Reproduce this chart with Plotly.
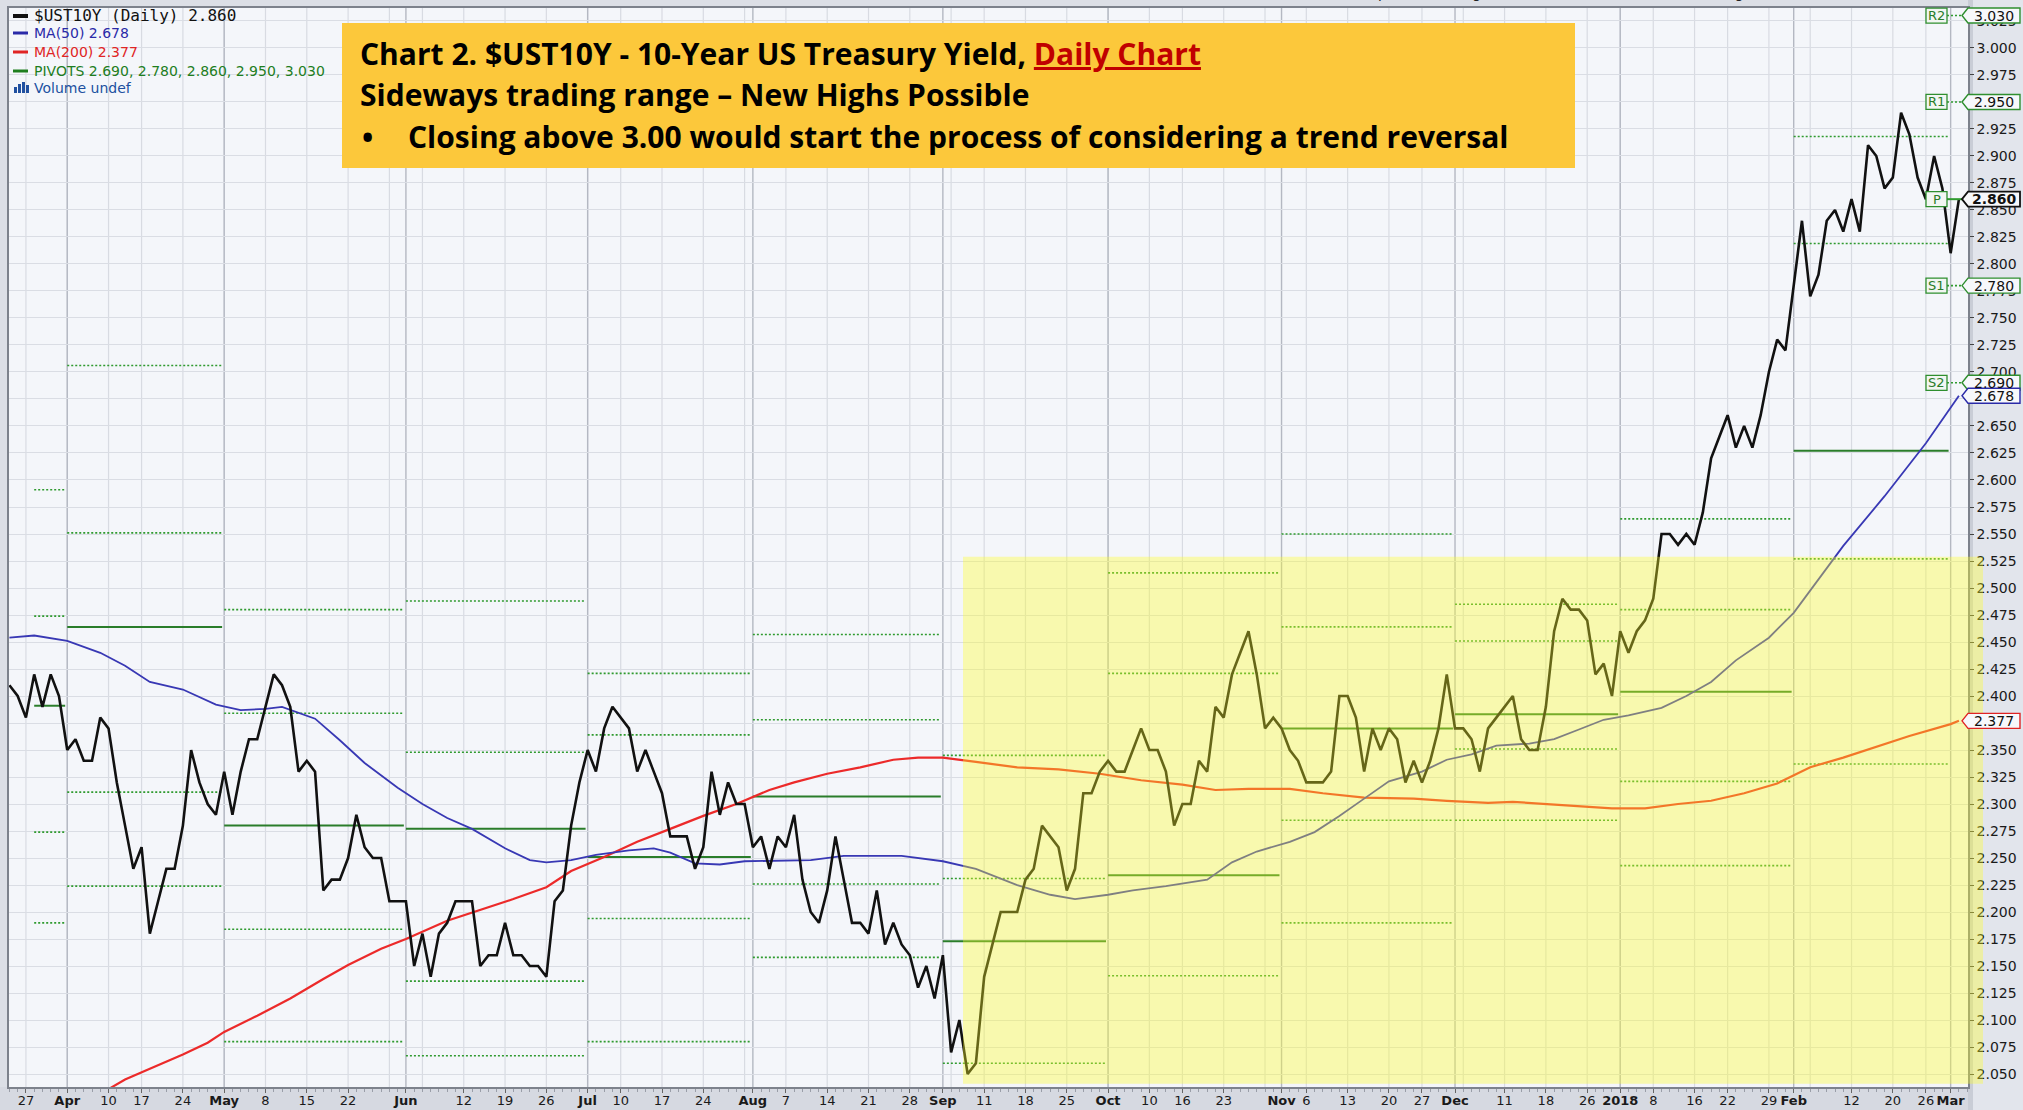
import numpy as np
import pandas as pd
import plotly.graph_objects as go

# ---------------- data ----------------
first_day = "2017-03-23"
last_day = "2018-03-02"
bond_holidays = ["2017-04-14", "2017-05-29", "2017-07-04", "2017-09-04", "2017-10-09",
                 "2017-11-23", "2017-12-25", "2018-01-01", "2018-01-15", "2018-02-19"]

# daily closes of $UST10Y, one per trading day from first_day to last_day
ust10y_close = [
    2.41, 2.40, 2.38, 2.42, 2.39, 2.42, 2.40,
    2.35, 2.36, 2.34, 2.34, 2.38, 2.37, 2.32, 2.28, 2.24, 2.26, 2.18, 2.21, 2.24, 2.24, 2.28, 2.35, 2.32, 2.30, 2.29,
    2.33, 2.29, 2.33, 2.36, 2.36, 2.39, 2.42, 2.41, 2.39, 2.33, 2.34, 2.33, 2.22, 2.23, 2.23, 2.25, 2.29, 2.26, 2.25, 2.25, 2.21, 2.21,
    2.21, 2.15, 2.18, 2.14, 2.18, 2.19, 2.21, 2.21, 2.21, 2.15, 2.16, 2.16, 2.19, 2.16, 2.16, 2.15, 2.15, 2.14, 2.21, 2.22, 2.28, 2.32,
    2.35, 2.33, 2.37, 2.39, 2.38, 2.37, 2.33, 2.35, 2.33, 2.31, 2.27, 2.27, 2.27, 2.24, 2.26, 2.33, 2.29, 2.32, 2.30, 2.30,
    2.26, 2.27, 2.24, 2.27, 2.26, 2.29, 2.23, 2.20, 2.19, 2.22, 2.27, 2.23, 2.19, 2.19, 2.18, 2.22, 2.17, 2.19, 2.17, 2.16, 2.13, 2.15, 2.12,
    2.16, 2.07, 2.10, 2.05, 2.06, 2.14, 2.17, 2.20, 2.20, 2.20, 2.23, 2.24, 2.28, 2.27, 2.26, 2.22, 2.24, 2.31, 2.31, 2.33,
    2.34, 2.33, 2.33, 2.35, 2.37, 2.35, 2.35, 2.33, 2.28, 2.30, 2.30, 2.34, 2.33, 2.39, 2.38, 2.42, 2.44, 2.46, 2.42, 2.37, 2.38,
    2.37, 2.35, 2.34, 2.32, 2.32, 2.32, 2.33, 2.40, 2.40, 2.38, 2.33, 2.37, 2.35, 2.37, 2.36, 2.32, 2.34, 2.32, 2.34, 2.37, 2.42,
    2.37, 2.37, 2.36, 2.33, 2.37, 2.38, 2.39, 2.40, 2.36, 2.35, 2.35, 2.39, 2.46, 2.49, 2.48, 2.48, 2.47, 2.42, 2.43, 2.40,
    2.46, 2.44, 2.46, 2.47, 2.49, 2.55, 2.55, 2.54, 2.55, 2.54, 2.57, 2.62, 2.64, 2.66, 2.63, 2.65, 2.63, 2.66, 2.70, 2.73, 2.72,
    2.78, 2.84, 2.77, 2.79, 2.84, 2.85, 2.83, 2.86, 2.83, 2.91, 2.90, 2.87, 2.88, 2.94, 2.92, 2.88, 2.86, 2.90, 2.87,
    2.81, 2.86,
]

ma50_dates = ["2017-03-23", "2017-03-28", "2017-04-03", "2017-04-07", "2017-04-12", "2017-04-18", "2017-04-24",
              "2017-04-28", "2017-05-03", "2017-05-08", "2017-05-10", "2017-05-16", "2017-05-19", "2017-05-24",
              "2017-05-31", "2017-06-05", "2017-06-08", "2017-06-13", "2017-06-19", "2017-06-22", "2017-06-26",
              "2017-06-29", "2017-07-05", "2017-07-11", "2017-07-14", "2017-07-18", "2017-07-21", "2017-07-26",
              "2017-07-31", "2017-08-10", "2017-08-16", "2017-08-25", "2017-09-01", "2017-09-08", "2017-09-15",
              "2017-09-21", "2017-09-26", "2017-10-02", "2017-10-05", "2017-10-12", "2017-10-19", "2017-10-24",
              "2017-10-27", "2017-11-02", "2017-11-07", "2017-11-10", "2017-11-15", "2017-11-20", "2017-11-27",
              "2017-11-30", "2017-12-05", "2017-12-08", "2017-12-14", "2017-12-19", "2017-12-22", "2017-12-28",
              "2018-01-03", "2018-01-09", "2018-01-12", "2018-01-18", "2018-01-23", "2018-01-29", "2018-02-01",
              "2018-02-06", "2018-02-09", "2018-02-16", "2018-02-26", "2018-03-02"]
ma50_values = [2.454, 2.456, 2.451, 2.440, 2.428, 2.413, 2.406,
               2.392, 2.387, 2.388, 2.390, 2.379, 2.359, 2.338,
               2.315, 2.300, 2.287, 2.277, 2.259, 2.248, 2.246,
               2.248, 2.253, 2.257, 2.259, 2.255, 2.245, 2.244,
               2.247, 2.248, 2.252, 2.252, 2.247, 2.240, 2.225,
               2.216, 2.212, 2.216, 2.220, 2.224, 2.230, 2.246,
               2.256, 2.265, 2.274, 2.289, 2.305, 2.321, 2.330,
               2.341, 2.346, 2.354, 2.356, 2.360, 2.369, 2.378,
               2.382, 2.389, 2.400, 2.413, 2.433, 2.454, 2.477,
               2.508, 2.539, 2.585, 2.634, 2.678]

ma200_dates = ["2017-04-10", "2017-04-12", "2017-04-18", "2017-04-24", "2017-04-27", "2017-05-01", "2017-05-05",
               "2017-05-11", "2017-05-17", "2017-05-22", "2017-05-26", "2017-06-01", "2017-06-08", "2017-06-14",
               "2017-06-20", "2017-06-26", "2017-06-29", "2017-07-06", "2017-07-12", "2017-07-18", "2017-07-24",
               "2017-07-28", "2017-08-03", "2017-08-08", "2017-08-14", "2017-08-18", "2017-08-24", "2017-08-29",
               "2017-09-01", "2017-09-08", "2017-09-15", "2017-09-22", "2017-09-29", "2017-10-06", "2017-10-16",
               "2017-10-20", "2017-10-26", "2017-11-02", "2017-11-08", "2017-11-15", "2017-11-24", "2017-11-30",
               "2017-12-07", "2017-12-12", "2017-12-18", "2017-12-22", "2017-12-29", "2018-01-05", "2018-01-11",
               "2018-01-18", "2018-01-24", "2018-01-30", "2018-02-05", "2018-02-09", "2018-02-15", "2018-02-22",
               "2018-03-01", "2018-03-02"]
ma200_values = [2.036, 2.045, 2.055, 2.068, 2.079, 2.089, 2.104,
                2.120, 2.138, 2.151, 2.166, 2.175, 2.192, 2.202,
                2.212, 2.223, 2.238, 2.251, 2.265, 2.277, 2.289,
                2.300, 2.313, 2.320, 2.328, 2.334, 2.341, 2.343,
                2.343, 2.339, 2.334, 2.332, 2.328, 2.322, 2.318,
                2.313, 2.314, 2.314, 2.310, 2.306, 2.305, 2.303,
                2.301, 2.302, 2.300, 2.298, 2.296, 2.296, 2.300,
                2.303, 2.310, 2.319, 2.334, 2.343, 2.353, 2.363,
                2.374, 2.377]

# monthly pivot levels (period start, R2, R1, P, S1, S2)
pivot_start = ["2017-03-28", "2017-04-03", "2017-05-01", "2017-06-01", "2017-07-03", "2017-08-01",
               "2017-09-01", "2017-10-02", "2017-11-01", "2017-12-01", "2018-01-02", "2018-02-01"]
pivot_end_next = ["2017-04-03", "2017-05-01", "2017-06-01", "2017-07-03", "2017-08-01", "2017-09-01",
                  "2017-10-02", "2017-11-01", "2017-12-01", "2018-01-02", "2018-02-01", "2018-03-01"]
pivot_r2 = [2.591, 2.706, 2.480, 2.488, 2.421, 2.457, 2.345, 2.514, 2.550, 2.485, 2.564, 2.918]
pivot_r1 = [2.474, 2.551, 2.384, 2.348, 2.364, 2.378, 2.231, 2.421, 2.464, 2.451, 2.480, 2.819]
pivot_p = [2.391, 2.464, 2.280, 2.277, 2.251, 2.307, 2.173, 2.234, 2.370, 2.383, 2.404, 2.627]
pivot_s1 = [2.274, 2.311, 2.184, 2.136, 2.194, 2.226, 2.060, 2.141, 2.285, 2.351, 2.321, 2.527]
pivot_s2 = [2.190, 2.224, 2.080, 2.067, 2.080, 2.158, 2.007, 1.957, 2.190, 2.285, 2.243, 2.337]

current_pivot_names = ["R2", "R1", "P", "S1", "S2"]
current_pivot_values = [3.030, 2.950, 2.860, 2.780, 2.690]
last_close = 2.860
last_ma50 = 2.678
last_ma200 = 2.377

tick_dates = ["2017-03-27", "2017-04-03", "2017-04-10", "2017-04-17", "2017-04-24", "2017-05-01", "2017-05-08",
              "2017-05-15", "2017-05-22", "2017-06-01", "2017-06-12", "2017-06-19", "2017-06-26", "2017-07-03",
              "2017-07-10", "2017-07-17", "2017-07-24", "2017-08-01", "2017-08-07", "2017-08-14", "2017-08-21",
              "2017-08-28", "2017-09-01", "2017-09-11", "2017-09-18", "2017-09-25", "2017-10-02", "2017-10-10",
              "2017-10-16", "2017-10-23", "2017-11-01", "2017-11-06", "2017-11-13", "2017-11-20", "2017-11-27",
              "2017-12-01", "2017-12-11", "2017-12-18", "2017-12-26", "2018-01-02", "2018-01-08", "2018-01-16",
              "2018-01-22", "2018-01-29", "2018-02-01", "2018-02-12", "2018-02-20", "2018-02-26", "2018-03-01"]
tick_labels = ["27", "Apr", "10", "17", "24", "May", "8", "15", "22", "Jun", "12", "19", "26", "Jul",
               "10", "17", "24", "Aug", "7", "14", "21", "28", "Sep", "11", "18", "25", "Oct", "10",
               "16", "23", "Nov", "6", "13", "20", "27", "Dec", "11", "18", "26", "2018", "8", "16",
               "22", "29", "Feb", "12", "20", "26", "Mar"]
bold_labels = {"Apr", "May", "Jun", "Jul", "Aug", "Sep", "Oct", "Nov", "Dec", "2018", "Feb", "Mar"}

# ---------------- geometry ----------------
FW, FH = 2023, 1110
ML, MR, MT, MB = 9, 55, 8, 23
PW = FW - ML - MR
PH = FH - MT - MB
YMIN, YMAX = 2.038, 3.037
XMIN, XMAX = -0.05, 237.1


def px2x(px):
    return (px - ML) / PW


def py2y(py):
    return 1 - (py - MT) / PH


def v2y(v):
    return (v - YMIN) / (YMAX - YMIN)


cal = pd.bdate_range(first_day, last_day, freq="C", holidays=bond_holidays)
assert len(cal) == len(ust10y_close), (len(cal), len(ust10y_close))
pos_of = {d: i for i, d in enumerate(cal)}


def P(d):
    return pos_of[pd.Timestamp(d)]


xs = list(range(len(cal)))

fig = go.Figure()

# ---- pivots ----
dot_x, dot_y, sol_x, sol_y = [], [], [], []
for i, s in enumerate(pivot_start):
    x0 = P(s)
    x1 = P(pivot_end_next[i]) - 0.25
    for arr in (pivot_r2, pivot_r1, pivot_s1, pivot_s2):
        dot_x += [x0, x1, None]
        dot_y += [arr[i], arr[i], None]
    sol_x += [x0, x1, None]
    sol_y += [pivot_p[i], pivot_p[i], None]

fig.add_trace(go.Scatter(x=dot_x, y=dot_y, mode="lines",
                         line=dict(color="#2f9a2f", width=1.6, dash="2px,2px"),
                         hoverinfo="skip", showlegend=False))
fig.add_trace(go.Scatter(x=sol_x, y=sol_y, mode="lines",
                         line=dict(color="#2a7d2a", width=2),
                         hoverinfo="skip", showlegend=False))

# ---- moving averages ----
fig.add_trace(go.Scatter(x=[P(d) for d in ma200_dates], y=ma200_values, mode="lines",
                         line=dict(color="#ec2a2a", width=2.2), showlegend=False))
fig.add_trace(go.Scatter(x=[P(d) for d in ma50_dates], y=ma50_values, mode="lines",
                         line=dict(color="#3838b4", width=1.8), showlegend=False))

# ---- price ----
fig.add_trace(go.Scatter(x=xs, y=ust10y_close, mode="lines",
                         line=dict(color="#111111", width=2.6), showlegend=False))

shapes = []
annotations = []

# vertical grid: first trading day of each week, and month starts darker
week_key = [(d.isocalendar()[0], d.isocalendar()[1]) for d in cal]
week_starts = [i for i in range(len(cal)) if i == 0 or week_key[i] != week_key[i - 1]]
month_starts = [i for i in range(len(cal)) if i == 0 or cal[i].month != cal[i - 1].month]
for i in week_starts[1:]:
    shapes.append(dict(type="line", xref="x", yref="paper", x0=i, x1=i, y0=0, y1=1,
                       line=dict(color="#d8dbe2", width=1.2), layer="below"))
for i in month_starts[1:]:
    shapes.append(dict(type="line", xref="x", yref="paper", x0=i, x1=i, y0=0, y1=1,
                       line=dict(color="#b4b8c2", width=1.4), layer="below"))

# right axis panel and bottom band
shapes.append(dict(type="rect", xref="paper", yref="paper", x0=1.0, x1=px2x(FW), y0=py2y(FH), y1=py2y(0),
                   fillcolor="#e2e5ec", line=dict(width=0), layer="below"))
shapes.append(dict(type="rect", xref="paper", yref="paper", x0=px2x(0), x1=1.0, y0=py2y(FH), y1=0,
                   fillcolor="#d6d9e1", line=dict(width=0), layer="below"))
shapes.append(dict(type="rect", xref="paper", yref="paper", x0=1.0, x1=px2x(1973), y0=py2y(FH), y1=py2y(0),
                   fillcolor="#c9cdd6", line=dict(width=0), layer="below"))

# yellow highlighted range
shapes.append(dict(type="rect", xref="paper", yref="paper",
                   x0=px2x(963), x1=px2x(1983), y0=v2y(2.041), y1=v2y(2.529),
                   fillcolor="rgba(255,255,40,0.36)", line=dict(width=0), layer="above"))

# title box
shapes.append(dict(type="rect", xref="paper", yref="paper",
                   x0=px2x(342), x1=px2x(1575), y0=py2y(168), y1=py2y(23),
                   fillcolor="#fcc83b", line=dict(width=0), layer="above"))

box_font = "'Open Sans', 'Noto Sans', sans-serif"
TS = 30
annotations.append(dict(xref="paper", yref="paper", x=px2x(358), y=py2y(53), xanchor="left", yanchor="middle",
                        showarrow=False,
                        text="<b>Chart 2. $UST10Y - 10-Year US Treasury Yield, "
                             "<span style='color:#c00000'><u>Daily Chart</u></span></b>",
                        font=dict(family=box_font, size=TS, color="#000000")))
annotations.append(dict(xref="paper", yref="paper", x=px2x(358), y=py2y(94), xanchor="left", yanchor="middle",
                        showarrow=False, text="<b>Sideways trading range \u2013 New Highs Possible</b>",
                        font=dict(family=box_font, size=TS, color="#000000")))
annotations.append(dict(xref="paper", yref="paper", x=px2x(360), y=py2y(136), xanchor="left", yanchor="middle",
                        showarrow=False, text="<b>\u2022</b>",
                        font=dict(family=box_font, size=TS, color="#000000")))
annotations.append(dict(xref="paper", yref="paper", x=px2x(406), y=py2y(136), xanchor="left", yanchor="middle",
                        showarrow=False,
                        text="<b>Closing above 3.00 would start the process of considering a trend reversal</b>",
                        font=dict(family=box_font, size=TS, color="#000000")))

# ---- legend (top-left) ----
legend_rows = [
    ("$UST10Y (Daily) %.3f" % last_close, "#111111", "#111111", 16, "DejaVu Sans Mono", 16),
    ("MA(50) %.3f" % last_ma50, "#2a2aa8", "#2a2aa8", 33, "DejaVu Sans", 14),
    ("MA(200) %.3f" % last_ma200, "#e02424", "#e02424", 52, "DejaVu Sans", 14),
    ("PIVOTS " + ", ".join("%.3f" % v for v in sorted(current_pivot_values)), "#1e7e1e", "#1e7e1e", 71,
     "DejaVu Sans", 14),
    ("Volume undef", "#2050a0", None, 88, "DejaVu Sans", 14),
]
for text, tcol, icol, yc, fam, fs in legend_rows:
    annotations.append(dict(xref="paper", yref="paper", x=px2x(32), y=py2y(yc), xanchor="left",
                            yanchor="middle", showarrow=False, text=text,
                            font=dict(family=fam, size=fs, color=tcol)))
    if icol:
        shapes.append(dict(type="line", xref="paper", yref="paper", x0=px2x(13), x1=px2x(28),
                           y0=py2y(yc), y1=py2y(yc), line=dict(color=icol, width=4 if yc == 16 else 3),
                           layer="above"))
for bx, bh in ((14, 6), (18, 9), (22, 11), (26, 8)):
    shapes.append(dict(type="rect", xref="paper", yref="paper", x0=px2x(bx), x1=px2x(bx + 3),
                       y0=py2y(88 + 5), y1=py2y(88 + 5 - bh), fillcolor="#2050a0",
                       line=dict(width=0), layer="above"))

# ---- right-hand value labels ----
HH = 7.5 / PH


def value_box(v, text, border, bold=False, bw=1.4):
    yc = v2y(v)
    path = ("M {a},{yc} L {b},{t} L {c},{t} L {c},{bo} L {b},{bo} Z"
            .format(a=px2x(1962), b=px2x(1968), c=px2x(2020), yc=yc, t=yc + HH, bo=yc - HH))
    shapes.append(dict(type="path", xref="paper", yref="paper", path=path,
                       fillcolor="#f7f8fb", line=dict(color=border, width=bw), layer="above"))
    annotations.append(dict(xref="paper", yref="paper", x=px2x(1994), y=yc, xanchor="center",
                            yanchor="middle", showarrow=False,
                            text="<b>%s</b>" % text if bold else text,
                            font=dict(family="DejaVu Sans", size=14, color="#111111")))


for name, v in zip(current_pivot_names, current_pivot_values):
    yc = v2y(v)
    shapes.append(dict(type="line", xref="paper", yref="paper", x0=px2x(1947), x1=px2x(1962),
                       y0=yc, y1=yc,
                       line=dict(color="#2f9a2f", width=1.6 if name != "P" else 2,
                                 dash="2px,2px" if name != "P" else "solid"),
                       layer="above"))
    shapes.append(dict(type="rect", xref="paper", yref="paper", x0=px2x(1926), x1=px2x(1947),
                       y0=yc - HH, y1=yc + HH, fillcolor="#f2f6f2",
                       line=dict(color="#2f8f2f", width=1.3), layer="above"))
    annotations.append(dict(xref="paper", yref="paper", x=px2x(1936.5), y=yc, xanchor="center",
                            yanchor="middle", showarrow=False, text=name,
                            font=dict(family="DejaVu Sans", size=13, color="#2a7d2a")))
    if name != "P":
        value_box(v, "%.3f" % v, "#2f8f2f")

value_box(last_close, "%.3f" % last_close, "#111111", bold=True, bw=1.8)
value_box(last_ma50, "%.3f" % last_ma50, "#2a2aa8")
value_box(last_ma200, "%.3f" % last_ma200, "#e02424")

# clipped header strip text
annotations.append(dict(xref="paper", yref="paper", x=px2x(1365), y=py2y(3), xanchor="left",
                        yanchor="bottom", showarrow=False,
                        text="Open 2.860  High 2.860  Low 2.860  Close 2.860  Chg -0.050 (-1.72%)",
                        font=dict(family="DejaVu Sans", size=14, color="#222222")))
annotations.append(dict(xref="paper", yref="paper", x=px2x(10), y=py2y(3), xanchor="left",
                        yanchor="bottom", showarrow=False, text="2 Mar 2018",
                        font=dict(family="DejaVu Sans", size=14, color="#222222")))

tick_text = ["<b>%s</b>" % t if t in bold_labels else t for t in tick_labels]

fig.update_layout(
    width=FW, height=FH,
    margin=dict(l=ML, r=MR, t=MT, b=MB, pad=0),
    paper_bgcolor="#dcdfe6",
    plot_bgcolor="#f4f6fa",
    showlegend=False,
    shapes=shapes,
    annotations=annotations,
    xaxis=dict(range=[XMIN, XMAX], tickmode="array", tickvals=[P(d) for d in tick_dates],
               ticktext=tick_text, tickangle=0, ticks="outside", ticklen=4, tickcolor="#666666",
               ticklabelstandoff=-3,
               showgrid=False, zeroline=False, showline=True, linecolor="#7d828c", linewidth=1.5,
               mirror=True, automargin=False,
               tickfont=dict(family="DejaVu Sans", size=13, color="#1a1a1a"),
               minor=dict(tickmode="linear", tick0=0, dtick=1, ticks="outside", ticklen=3,
                          tickcolor="#9a9ea8", showgrid=False)),
    yaxis=dict(range=[YMIN, YMAX], side="right", tick0=2.05, dtick=0.025, tickformat=".3f",
               ticks="outside", ticklen=4, tickcolor="#444444", showgrid=True, gridcolor="#dadde4",
               gridwidth=1.2, zeroline=False, showline=True, linecolor="#7d828c", linewidth=1.5,
               mirror=True, automargin=False,
               tickfont=dict(family="DejaVu Sans", size=14, color="#1a1a1a")),
)

fig.write_html("out.html",
               config={"displayModeBar": False},
               post_script="document.body.style.margin='0px';document.body.style.padding='0px';"
                           "document.body.style.overflow='hidden';")
